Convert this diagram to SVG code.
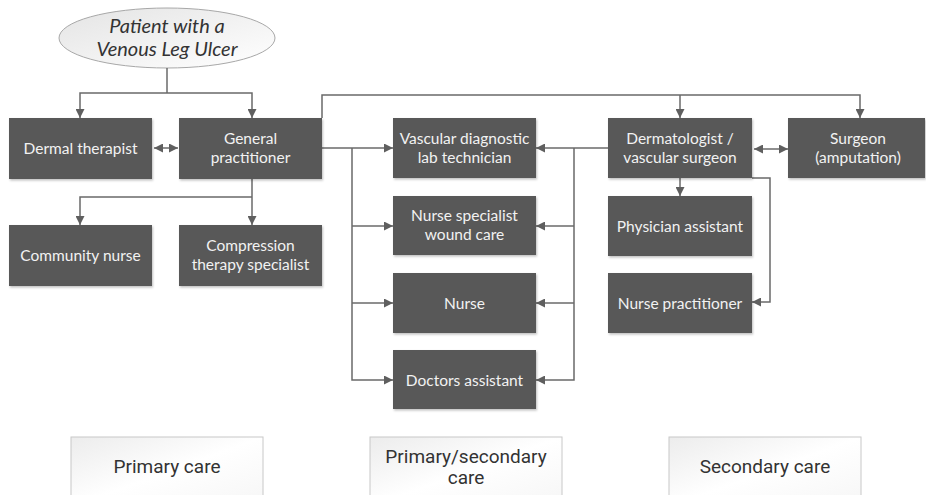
<svg xmlns="http://www.w3.org/2000/svg" width="926" height="495" viewBox="0 0 926 495">
<defs>
<linearGradient id="eg" x1="0" y1="0" x2="1" y2="1"><stop offset="0" stop-color="#e4e4e4"/><stop offset="1" stop-color="#ffffff"/></linearGradient>
<linearGradient id="bg" x1="0" y1="0" x2="1" y2="1"><stop offset="0" stop-color="#ececec"/><stop offset="0.5" stop-color="#ffffff"/><stop offset="1" stop-color="#f6f6f6"/></linearGradient>
<marker id="a" viewBox="0 0 10 10" refX="10" refY="5" markerWidth="9" markerHeight="9" markerUnits="userSpaceOnUse" orient="auto-start-reverse"><path d="M0,0 L10,5 L0,10 z" fill="#5f5f5f"/></marker>
<filter id="sh" x="-5%" y="-5%" width="110%" height="115%"><feDropShadow dx="1" dy="1.5" stdDeviation="1" flood-color="#000" flood-opacity="0.25"/></filter>
</defs>
<style>
.n rect{fill:#595959;filter:url(#sh)}
.n text{fill:#f2f2f2;font-family:Lato,"Open Sans",sans-serif;font-size:15.5px;text-anchor:middle}
.c path{fill:none;stroke:#6a6a6a;stroke-width:1.5}
.l rect{fill:url(#bg);stroke:#c8c8c8;stroke-width:1}
.l text{fill:#333;font-family:Roboto,"Liberation Sans",sans-serif;font-size:19px;text-anchor:middle}
.e{font-family:Lato,"Open Sans",sans-serif;font-style:italic;font-size:20px;fill:#333;text-anchor:middle}
</style>
<rect width="926" height="495" fill="#fff"/>
<g id="patient">
<ellipse cx="167" cy="38" rx="108" ry="30" fill="url(#eg)" stroke="#a8a8a8" stroke-width="1"/>
<text class="e" x="167" y="33">Patient with a</text>
<text class="e" x="167" y="56">Venous Leg Ulcer</text>
</g>
<g class="c" id="connectors">
<path d="M167,68 V93"/>
<path d="M167,93 H80 V118" marker-end="url(#a)"/>
<path d="M167,93 H252 V118" marker-end="url(#a)"/>
<path d="M154,148 H178" marker-start="url(#a)" marker-end="url(#a)"/>
<path d="M252,179 V197"/>
<path d="M252,197 H80 V225" marker-end="url(#a)"/>
<path d="M252,197 V225" marker-end="url(#a)"/>
<path d="M322,118 V95 H860 V118" marker-end="url(#a)"/>
<path d="M680,95 V118" marker-end="url(#a)"/>
<path d="M322,148 H393" marker-end="url(#a)"/>
<path d="M352,148 V380 H393" marker-end="url(#a)"/>
<path d="M352,226 H393" marker-end="url(#a)"/>
<path d="M352,303 H393" marker-end="url(#a)"/>
<path d="M608,148 H536" marker-end="url(#a)"/>
<path d="M574,148 V380 H536" marker-end="url(#a)"/>
<path d="M574,226 H536" marker-end="url(#a)"/>
<path d="M574,303 H536" marker-end="url(#a)"/>
<path d="M754,149 H788" marker-start="url(#a)" marker-end="url(#a)"/>
<path d="M680,178 V196" marker-end="url(#a)"/>
<path d="M752,178 H770 V302 H752" marker-end="url(#a)"/>
</g>
<g class="n" id="dermal"><rect x="9" y="118" width="143" height="61"/><text x="80.5" y="154">Dermal therapist</text></g>
<g class="n" id="gp"><rect x="179" y="118" width="143" height="61"/><text x="250.5" y="144">General</text><text x="250.5" y="163">practitioner</text></g>
<g class="n" id="community"><rect x="9" y="225" width="143" height="61"/><text x="80.5" y="261">Community nurse</text></g>
<g class="n" id="compression"><rect x="179" y="225" width="143" height="61"/><text x="250.5" y="251">Compression</text><text x="250.5" y="270">therapy specialist</text></g>
<g class="n" id="vascular"><rect x="393" y="118" width="143" height="60"/><text x="464.5" y="144">Vascular diagnostic</text><text x="464.5" y="163">lab technician</text></g>
<g class="n" id="nursespec"><rect x="393" y="196" width="143" height="59"/><text x="464.5" y="221">Nurse specialist</text><text x="464.5" y="240">wound care</text></g>
<g class="n" id="nurse"><rect x="393" y="273" width="143" height="60"/><text x="464.5" y="309">Nurse</text></g>
<g class="n" id="doctors"><rect x="393" y="350" width="143" height="59"/><text x="464.5" y="386">Doctors assistant</text></g>
<g class="n" id="derm"><rect x="608" y="118" width="144" height="60"/><text x="680" y="144">Dermatologist /</text><text x="680" y="163">vascular surgeon</text></g>
<g class="n" id="surgeon"><rect x="788" y="118" width="137" height="60"/><text x="858" y="144">Surgeon</text><text x="858" y="163">(amputation)</text></g>
<g class="n" id="physician"><rect x="608" y="196" width="144" height="60"/><text x="680" y="232">Physician assistant</text></g>
<g class="n" id="np"><rect x="608" y="273" width="144" height="60"/><text x="680" y="309">Nurse practitioner</text></g>
<g class="l" id="primary"><rect x="71" y="437" width="192" height="70"/><text x="167" y="473">Primary care</text></g>
<g class="l" id="primsec"><rect x="370" y="437" width="192" height="70"/><text x="466" y="463">Primary/secondary</text><text x="466" y="484">care</text></g>
<g class="l" id="secondary"><rect x="669" y="437" width="192" height="70"/><text x="765" y="473">Secondary care</text></g>
</svg>
